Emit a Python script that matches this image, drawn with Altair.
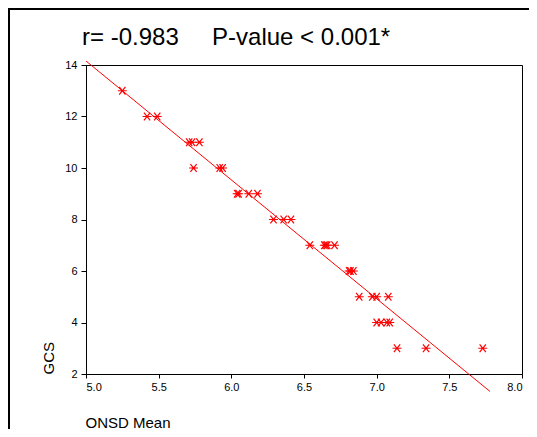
import altair as alt
import pandas as pd

onsd = [5.25, 5.42, 5.49, 5.71, 5.73, 5.78, 5.74, 5.92, 5.94, 6.04, 6.05, 6.12, 6.18,
        6.29, 6.36, 6.41, 6.54, 6.64, 6.65, 6.66, 6.71, 6.81, 6.82, 6.84,
        6.88, 6.97, 7.00, 7.08, 7.00, 7.03, 7.07, 7.09, 7.14, 7.34, 7.73]
gcs = [13, 12, 12, 11, 11, 11, 10, 10, 10, 9, 9, 9, 9,
       8, 8, 8, 7, 7, 7, 7, 7, 6, 6, 6,
       5, 5, 5, 5, 4, 4, 4, 4, 3, 3, 3]

x_ticks = [5.0, 5.5, 6.0, 6.5, 7.0, 7.5, 8.0]
y_ticks = [2, 4, 6, 8, 10, 12, 14]
title_text = ["r= -0.983\u00a0\u00a0\u00a0\u00a0\u00a0P-value < 0.001*"]

df = pd.DataFrame({"ONSD Mean": onsd, "GCS": gcs})
title_df = pd.DataFrame({"t": title_text})

FONT = "Liberation Sans"
W, H = 436, 309
PAD_L, PAD_T, PAD_R, PAD_B = 78, 57, 7, 55

xscale = alt.Scale(domain=[5.0, 8.0], nice=False, zero=False)
yscale = alt.Scale(domain=[2, 14], nice=False, zero=False)

xaxis = alt.Axis(values=x_ticks, format=".1f", grid=False, tickSize=4, labelPadding=3,
                 title="ONSD Mean", titleAnchor="start", titleAlign="left", titleX=-1,
                 titleY=53, titleBaseline="alphabetic")
yaxis = alt.Axis(values=y_ticks, format="d", grid=False, tickSize=5, labelPadding=4,
                 title="GCS", titleAngle=270, titleAlign="left", titleX=-33, titleY=H,
                 titleBaseline="alphabetic")

asterisk = "M-1,0L1,0M-0.7,-0.85L0.7,0.85M-0.7,0.85L0.7,-0.85"

points = alt.Chart(df).mark_point(shape=asterisk, filled=False, color="#ff0000",
                                  strokeWidth=1.2, size=80, opacity=1).encode(
    x=alt.X("ONSD Mean:Q", scale=xscale, axis=xaxis),
    y=alt.Y("GCS:Q", scale=yscale, axis=yaxis),
)

fit = alt.Chart(df).transform_regression(
    "ONSD Mean", "GCS", extent=[5.0, 7.78]
).mark_line(color="#ff0000", strokeWidth=1, clip=False).encode(
    x=alt.X("ONSD Mean:Q", scale=xscale),
    y=alt.Y("GCS:Q", scale=yscale),
)

title = alt.Chart(title_df).mark_text(
    align="left", baseline="alphabetic", font=FONT, fontSize=24, color="#000000"
).encode(x=alt.value(-4), y=alt.value(-20), text="t:N")

frame_left = alt.Chart(title_df).mark_rule(color="#000000", strokeWidth=2).encode(
    x=alt.value(-PAD_L + 1), y=alt.value(-PAD_T), y2=alt.value(H + PAD_B)
)
frame_top = alt.Chart(title_df).mark_rule(color="#000000", strokeWidth=2).encode(
    x=alt.value(-PAD_L), x2=alt.value(W + PAD_R), y=alt.value(-PAD_T + 1)
)

chart = alt.layer(frame_left, frame_top, fit, points, title).properties(
    width=W, height=H,
    background="white",
    autosize=alt.AutoSizeParams(type="none"),
    padding={"left": PAD_L, "top": PAD_T, "right": PAD_R, "bottom": PAD_B},
).configure_view(stroke="#000000", strokeWidth=1).configure_axis(
    labelFont=FONT, labelFontSize=11, labelColor="#000000",
    titleFont=FONT, titleFontSize=15, titleFontWeight="normal", titleColor="#000000",
    domainColor="#000000", domainWidth=1, tickColor="#000000", tickWidth=1,
)

chart.save("out.html", embed_options={"renderer": "svg", "actions": False})
